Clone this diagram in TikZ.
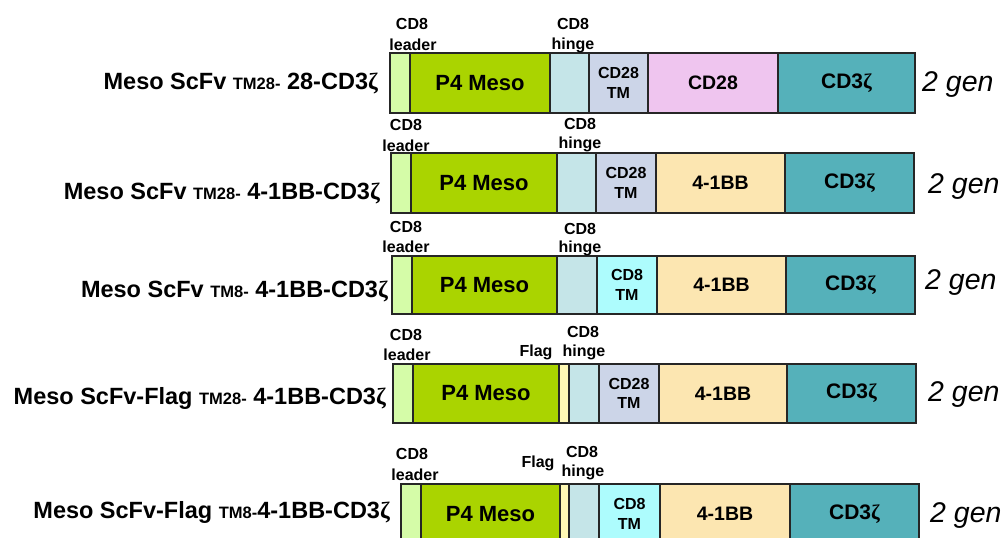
\documentclass[tikz,border=0pt]{standalone}
\usepackage{fontspec}
\setmainfont{Liberation Sans}
\newfontfamily\zfont{Liberation Serif}
\newcommand{\zt}{{\zfont ζ}}
\newcommand{\fbig}{\fontsize{22}{26}\selectfont}
\newcommand{\fmid}{\fontsize{19.5}{23}\selectfont}
\newcommand{\fzet}{\fontsize{21}{25}\selectfont}
\newcommand{\fsm}{\fontsize{16}{19.5}\selectfont}
\newcommand{\frow}{\fontsize{23.5}{28}\selectfont}
\newcommand{\frsub}{\fontsize{16.5}{20}\selectfont}
\newcommand{\fgen}{\fontsize{28.5}{32}\selectfont}
\definecolor{cLead}{HTML}{D5FCA8}
\definecolor{cMeso}{HTML}{AAD400}
\definecolor{cHinge}{HTML}{C5E5E8}
\definecolor{cTMa}{HTML}{CCD5E8}
\definecolor{cTMb}{HTML}{ADFCFD}
\definecolor{cCDa}{HTML}{EFC5EF}
\definecolor{cBB}{HTML}{FCE6B1}
\definecolor{cZeta}{HTML}{55B1BA}
\definecolor{cFlag}{HTML}{FFF9B5}
\tikzset{
  seg/.style={draw=black!85, line width=1.5pt, inner sep=0pt, outer sep=0pt,
    anchor=north west, align=center},
  meso/.style={fill=cMeso, font=\bfseries\fbig},
  lead/.style={fill=cLead},
  hng/.style={fill=cHinge},
  flg/.style={fill=cFlag},
  tma/.style={fill=cTMa, font=\bfseries\fsm},
  tmb/.style={fill=cTMb, font=\bfseries\fsm},
  cda/.style={fill=cCDa, font=\bfseries\fmid},
  bbx/.style={fill=cBB, font=\bfseries\fmid},
  zet/.style={fill=cZeta, font=\bfseries\fzet},
  lab/.style={anchor=base, inner sep=0pt, font=\bfseries\fsm},
  rowlab/.style={anchor=base east, inner sep=0pt, font=\bfseries\frow},
  gen/.style={anchor=base west, inner sep=0pt, font=\itshape\fgen}
}
\newcommand{\seg}[7]{%
  \pgfmathsetmacro\segw{#3-#2}\pgfmathsetmacro\segh{#5-#4}%
  \node[seg, #6, minimum width=\segw pt, minimum height=\segh pt] (#1) at (#2,#4) {#7};}
\begin{document}
\begin{tikzpicture}[x=1pt,y=-1pt]
\useasboundingbox (0,0) rectangle (1005,538);
\clip (0,0) rectangle (1005,538);
% Row 1
\seg{l1}{390}{410}{53}{113}{lead}{}
\seg{m1}{410}{550}{53}{113}{meso}{P4 Meso}
\seg{h1}{550}{589}{53}{113}{hng}{}
\seg{t1}{589}{648}{53}{113}{tma}{CD28\\TM}
\seg{c1}{648}{778}{53}{113}{cda}{CD28}
\seg{z1}{778}{915}{53}{113}{zet}{CD3\zt}
\node[rowlab] (r1) at (378,89) {Meso ScFv {\frsub TM28-} 28-CD3\zt};
\node[gen] (g1) at (922,91) {2 gen};
\node[lab] (la1) at (412,30) {CD8};
\node[lab] (lb1) at (413,50) {leader};
\node[lab] (ha1) at (573,30) {CD8};
\node[lab] (hb1) at (573,49) {hinge};
% Row 2
\seg{l2}{391}{411}{153}{213}{lead}{}
\seg{m2}{411}{557}{153}{213}{meso}{P4 Meso}
\seg{h2}{557}{596}{153}{213}{hng}{}
\seg{t2}{596}{656}{153}{213}{tma}{CD28\\TM}
\seg{c2}{656}{785}{153}{213}{bbx}{4-1BB}
\seg{z2}{785}{914}{153}{213}{zet}{CD3\zt}
\node[rowlab] (r2) at (380,199) {Meso ScFv {\frsub TM28-} 4-1BB-CD3\zt};
\node[gen] (g2) at (928,193) {2 gen};
\node[lab] (la2) at (406,130) {CD8};
\node[lab] (lb2) at (406,151) {leader};
\node[lab] (ha2) at (580,129) {CD8};
\node[lab] (hb2) at (580,148) {hinge};
% Row 3
\seg{l3}{392}{412}{256}{314}{lead}{}
\seg{m3}{412}{557}{256}{314}{meso}{P4 Meso}
\seg{h3}{557}{597}{256}{314}{hng}{}
\seg{t3}{597}{657}{256}{314}{tmb}{CD8\\TM}
\seg{c3}{657}{786}{256}{314}{bbx}{4-1BB}
\seg{z3}{786}{915}{256}{314}{zet}{CD3\zt}
\node[rowlab] (r3) at (388,297) {Meso ScFv {\frsub TM8-} 4-1BB-CD3\zt};
\node[gen] (g3) at (925,289) {2 gen};
\node[lab] (la3) at (406,232) {CD8};
\node[lab] (lb3) at (406,252) {leader};
\node[lab] (ha3) at (580,234) {CD8};
\node[lab] (hb3) at (580,252) {hinge};
% Row 4
\seg{l4}{393}{413}{364}{423}{lead}{}
\seg{m4}{413}{559}{364}{423}{meso}{P4 Meso}
\seg{f4}{559}{569}{364}{423}{flg}{}
\seg{h4}{569}{599}{364}{423}{hng}{}
\seg{t4}{599}{659}{364}{423}{tma}{CD28\\TM}
\seg{c4}{659}{787}{364}{423}{bbx}{4-1BB}
\seg{z4}{787}{916}{364}{423}{zet}{CD3\zt}
\node[rowlab] (r4) at (386,404) {Meso ScFv-Flag {\frsub TM28-} 4-1BB-CD3\zt};
\node[gen] (g4) at (928,401) {2 gen};
\node[lab] (la4) at (406,340) {CD8};
\node[lab] (lb4) at (407,360) {leader};
\node[lab] (fa4) at (536,356) {Flag};
\node[lab] (ha4) at (583,337) {CD8};
\node[lab] (hb4) at (584,356) {hinge};
% Row 5
\seg{l5}{401}{421}{484}{544}{lead}{}
\seg{m5}{421}{560}{484}{544}{meso}{P4 Meso}
\seg{f5}{560}{569}{484}{544}{flg}{}
\seg{h5}{569}{599}{484}{544}{hng}{}
\seg{t5}{599}{660}{484}{544}{tmb}{CD8\\TM}
\seg{c5}{660}{790}{484}{544}{bbx}{4-1BB}
\seg{z5}{790}{919}{484}{544}{zet}{CD3\zt}
\node[rowlab] (r5) at (390,518) {Meso ScFv-Flag {\frsub TM8-}4-1BB-CD3\zt};
\node[gen] (g5) at (930,522) {2 gen};
\node[lab] (la5) at (412,459) {CD8};
\node[lab] (lb5) at (415,480) {leader};
\node[lab] (fa5) at (538,467) {Flag};
\node[lab] (ha5) at (582,457) {CD8};
\node[lab] (hb5) at (583,476) {hinge};
\end{tikzpicture}
\end{document}
